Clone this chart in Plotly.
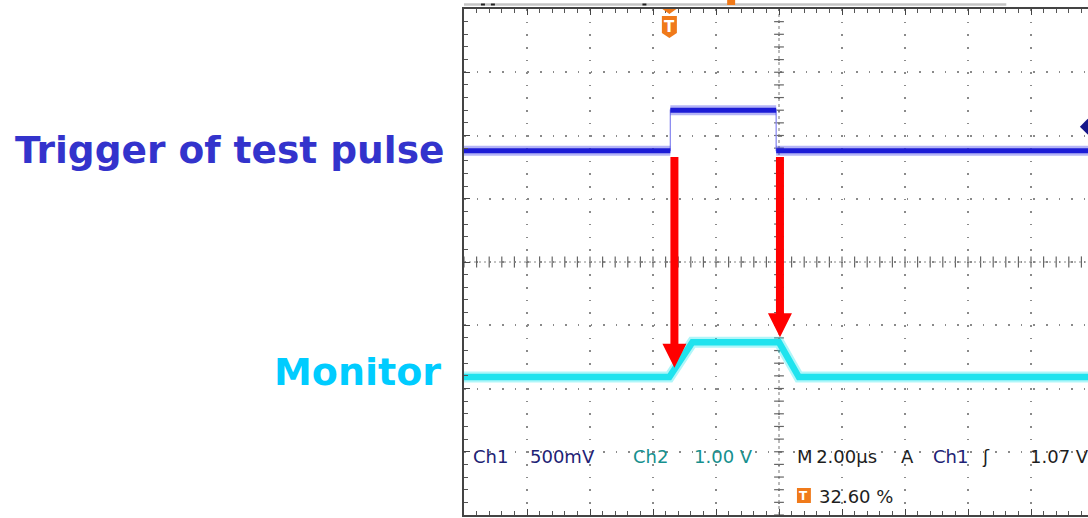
import numpy as np
import plotly.graph_objects as go

# ---------------- data ----------------
TIME_PER_DIV_US = 2.0
TRIGGER_POS_PCT = 32.60
TRIGGER_LEVEL_V = 1.07
CH1_VOLTS_PER_DIV = 0.5
CH2_VOLTS_PER_DIV = 1.0
CH1_POS_DIV = 0.0
CH2_POS_DIV = -3.0

# Ch1: trigger of test pulse (time in us relative to trigger, volts)
CH1_T_US = [-6.52, 0.03, 0.03, 3.39, 3.39, 13.48]
CH1_V = [0.88, 0.88, 1.20, 1.20, 0.88, 0.88]
# Ch2: monitor
CH2_T_US = [-6.52, 0.0, 0.73, 3.48, 4.11, 13.48]
CH2_V = [1.18, 1.18, 1.73, 1.73, 1.18, 1.18]

# red arrows (time in us, start/tip in screen divisions)
ARROW_T_US = [0.16, 3.51]
ARROW_FROM_DIV = [1.66, 1.66]
ARROW_TIP_DIV = [-1.67, -1.19]

SIDE_LABELS = ["Trigger of test pulse", "Monitor"]
STATUS_TEXTS = ["Ch1", "500mV", "Ch2", "1.00 V", "M\u20092.00\u00b5s", "A", "Ch1", "\u0283", "1.07 V"]
TRIG_PCT_TEXT = "32.60 %"

# ---------------- layout geometry ----------------
# the scope screen (10 divisions) extends slightly past the 1088 px window
W, H = 1096, 518
PX_L, PX_R, PY_T, PY_B = 464, 1096, 9, 515
N_DIV_X = 10
X0 = -TRIGGER_POS_PCT / 100 * N_DIV_X * TIME_PER_DIV_US
X1 = X0 + N_DIV_X * TIME_PER_DIV_US


def pxx(px):
    return (px - PX_L) / (PX_R - PX_L)


def pxy(py):
    return (PY_B - py) / (PY_B - PY_T)


def to_div(v, vdiv, pos):
    return [x / vdiv + pos for x in v]


def flat_segments(t, y):
    xs, ys = [], []
    for i in range(len(t) - 1):
        if t[i + 1] != t[i]:
            xs += [t[i], t[i + 1], None]
            ys += [y[i], y[i + 1], None]
    return xs, ys


ch1_y = to_div(CH1_V, CH1_VOLTS_PER_DIV, CH1_POS_DIV)
ch2_y = to_div(CH2_V, CH2_VOLTS_PER_DIV, CH2_POS_DIV)

fig = go.Figure()

# center crosshair tick marks (decoration)
x_center = X0 + 5 * TIME_PER_DIV_US
tick_xs = np.arange(X0, X1 + 1e-9, TIME_PER_DIV_US / 5)
tick_ys = np.arange(-4, 4.0001, 0.2)
fig.add_trace(go.Scatter(x=tick_xs, y=[0] * len(tick_xs), mode="markers",
                         marker=dict(symbol="line-ns", size=8, line=dict(width=1.2, color="#666")),
                         hoverinfo="skip", showlegend=False))
fig.add_trace(go.Scatter(x=[x_center] * len(tick_ys), y=tick_ys, mode="markers",
                         marker=dict(symbol="line-ew", size=7, line=dict(width=1.2, color="#666")),
                         hoverinfo="skip", showlegend=False))
fig.add_trace(go.Scatter(x=[X0, X1], y=[0, 0], mode="lines",
                         line=dict(color="#888", width=1, dash="2px,3px"),
                         hoverinfo="skip", showlegend=False))
fig.add_trace(go.Scatter(x=[x_center, x_center], y=[-4, 4], mode="lines",
                         line=dict(color="#777", width=1, dash="3px,3px"),
                         hoverinfo="skip", showlegend=False))

# Ch1 trace: thin edges + thick noisy-looking flats
fig.add_trace(go.Scatter(x=CH1_T_US, y=ch1_y, mode="lines",
                         line=dict(color="#8c8cf0", width=1.3), hoverinfo="skip", showlegend=False))
sx, sy = flat_segments(CH1_T_US, ch1_y)
fig.add_trace(go.Scatter(x=sx, y=sy, mode="lines",
                         line=dict(color="rgba(40,40,230,0.35)", width=10), hoverinfo="skip", showlegend=False))
fig.add_trace(go.Scatter(x=sx, y=sy, mode="lines",
                         line=dict(color="#1c1cd6", width=5), hoverinfo="skip", showlegend=False))

# Ch2 trace
fig.add_trace(go.Scatter(x=CH2_T_US, y=ch2_y, mode="lines",
                         line=dict(color="rgba(30,228,238,0.35)", width=11), hoverinfo="skip", showlegend=False))
fig.add_trace(go.Scatter(x=CH2_T_US, y=ch2_y, mode="lines",
                         line=dict(color="#1fe3ee", width=6.5), hoverinfo="skip", showlegend=False))

# trigger level marker on right edge
fig.add_trace(go.Scatter(x=[X0 + 9.9 * TIME_PER_DIV_US],
                         y=[TRIGGER_LEVEL_V / CH1_VOLTS_PER_DIV + CH1_POS_DIV],
                         mode="markers", marker=dict(symbol="diamond", size=12, color="#16168a"),
                         cliponaxis=False, hoverinfo="skip", showlegend=False))

shapes = []
# red arrows
head_h = 24 / 63.25
for t, y0, y1 in zip(ARROW_T_US, ARROW_FROM_DIV, ARROW_TIP_DIV):
    yb = y1 + head_h
    shapes.append(dict(type="path", xref="x", yref="y", xsizemode="pixel", xanchor=t,
                       path=f"M-4,{y0} L4,{y0} L4,{yb} L12,{yb} L0,{y1} L-12,{yb} L-4,{yb} Z",
                       fillcolor="#ff0000", line=dict(width=0), layer="above"))

# trigger position marker (orange) at top
shapes.append(dict(type="path", xref="x", yref="y", xsizemode="pixel", ysizemode="pixel",
                   xanchor=0, yanchor=4, path="M-7,0 L7,0 L0,-5 Z",
                   fillcolor="#f07a1a", line=dict(width=0)))
shapes.append(dict(type="path", xref="x", yref="y", xsizemode="pixel", ysizemode="pixel",
                   xanchor=0, yanchor=4, path="M-7.5,-7 L7.5,-7 L7.5,-24 L0,-29 L-7.5,-24 Z",
                   fillcolor="#f07a1a", line=dict(width=0)))
# record bar above screen
shapes.append(dict(type="line", xref="paper", yref="paper", x0=pxx(464), x1=pxx(1008),
                   y0=pxy(4.5), y1=pxy(4.5), line=dict(color="#c4c4c4", width=2.5)))
for bx in (483, 493, 645):
    shapes.append(dict(type="rect", xref="paper", yref="paper", x0=pxx(bx - 2), x1=pxx(bx + 2),
                       y0=pxy(5.5), y1=pxy(3.5), fillcolor="#222", line=dict(width=0)))
shapes.append(dict(type="rect", xref="paper", yref="paper", x0=pxx(728), x1=pxx(736),
                   y0=pxy(5), y1=pxy(0), fillcolor="#f07a1a", line=dict(width=0)))
# orange T box in status line
shapes.append(dict(type="rect", xref="paper", yref="paper", x0=pxx(798), x1=pxx(812),
                   y0=pxy(503), y1=pxy(488), fillcolor="#f07a1a", line=dict(width=0)))

annotations = []
annotations.append(dict(text="<b>T</b>", xref="paper", yref="paper", x=pxx(670.5), y=pxy(27),
                        xanchor="center", yanchor="middle", showarrow=False,
                        font=dict(family="DejaVu Sans", size=15, color="white")))
annotations.append(dict(text="<b>T</b>", xref="paper", yref="paper", x=pxx(805), y=pxy(495.5),
                        xanchor="center", yanchor="middle", showarrow=False,
                        font=dict(family="DejaVu Sans", size=12, color="white")))

# side labels
annotations.append(dict(text="<b>" + SIDE_LABELS[0] + "</b>", xref="paper", yref="paper",
                        x=pxx(446), y=pxy(150), xanchor="right", yanchor="middle", showarrow=False,
                        font=dict(family="DejaVu Sans", size=37.5, color="#3333cc")))
annotations.append(dict(text="<b>" + SIDE_LABELS[1] + "</b>", xref="paper", yref="paper",
                        x=pxx(443), y=pxy(372), xanchor="right", yanchor="middle", showarrow=False,
                        font=dict(family="DejaVu Sans", size=38, color="#00ccff")))

status_x = [471, 528, 632, 693, 796, 900, 932, 982, 1030]
status_c = ["#1e2275", "#1e2275", "#16908e", "#16908e", "#1e1e1e", "#1e1e1e", "#1e2275", "#1e1e1e", "#1e1e1e"]
for txt, x, c in zip(STATUS_TEXTS, status_x, status_c):
    annotations.append(dict(text=txt, xref="paper", yref="paper", x=pxx(x), y=pxy(456),
                            xanchor="left", yanchor="middle", showarrow=False,
                            font=dict(family="DejaVu Sans", size=18, color=c)))
annotations.append(dict(text=TRIG_PCT_TEXT, xref="paper", yref="paper", x=pxx(818), y=pxy(496),
                        xanchor="left", yanchor="middle", showarrow=False,
                        font=dict(family="DejaVu Sans", size=18, color="#1e1e1e")))

axis_common = dict(showticklabels=False, showline=True, linecolor="#444", linewidth=1.5,
                   mirror="ticks", ticks="inside", tickcolor="#444", ticklen=6, zeroline=False,
                   showgrid=True, gridcolor="#8a8a8a", gridwidth=1.6)

fig.update_layout(
    width=W, height=H, autosize=False,
    margin=dict(l=PX_L, r=W - PX_R, t=PY_T, b=H - PY_B, pad=0),
    paper_bgcolor="white", plot_bgcolor="white",
    showlegend=False,
    xaxis=dict(range=[X0, X1], tick0=X0, dtick=TIME_PER_DIV_US, griddash="1.6px,11.04px",
               minor=dict(dtick=TIME_PER_DIV_US / 5, tick0=X0, ticks="inside", ticklen=4,
                          tickcolor="#555", showgrid=False), **axis_common),
    yaxis=dict(range=[-4, 4], tick0=-4, dtick=1, griddash="1.6px,11.05px",
               minor=dict(dtick=0.2, tick0=-4, ticks="inside", ticklen=4,
                          tickcolor="#555", showgrid=False), **axis_common),
    shapes=shapes, annotations=annotations,
)

fig.write_html("out.html", config={"displayModeBar": False},
               post_script="document.body.style.margin='0';document.body.style.overflow='hidden';")
